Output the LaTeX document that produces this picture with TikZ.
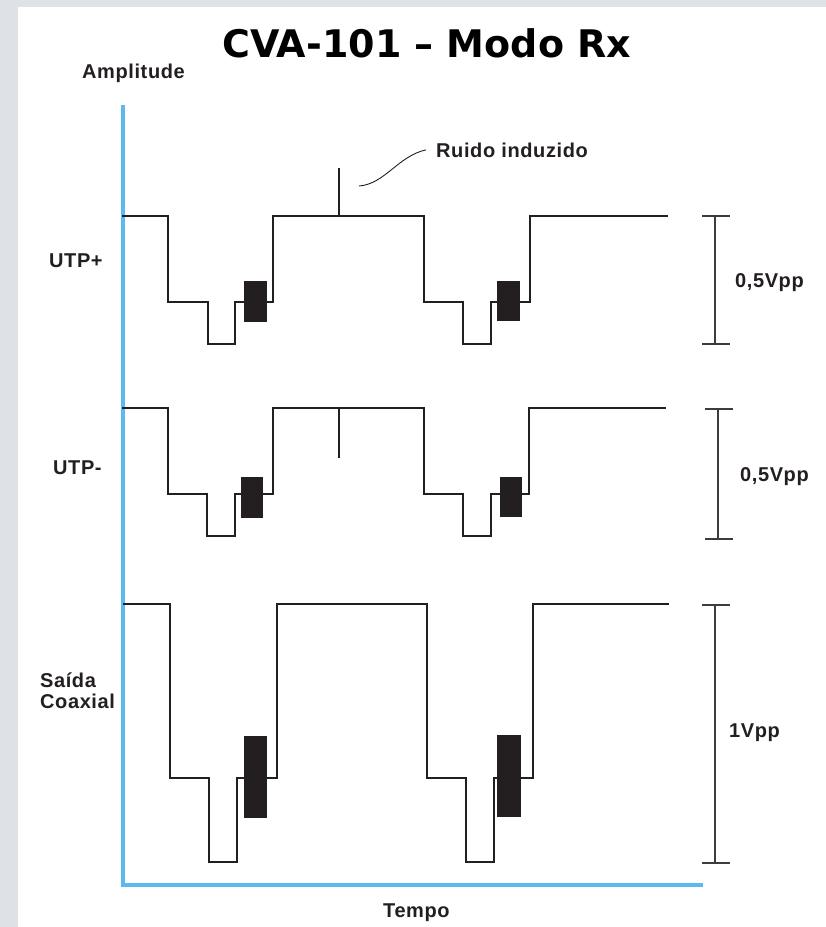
\documentclass[tikz,border=0pt]{standalone}
\usepackage{fontspec}
\setmainfont{Liberation Sans}
\newfontfamily\lblfont[LetterSpace=3]{Liberation Sans}
\newfontfamily\titlefont{DejaVu Sans}
\definecolor{ink}{RGB}{35,31,32}
\definecolor{axisblue}{RGB}{92,186,240}
\definecolor{bggray}{RGB}{222,226,230}
\definecolor{bargray}{RGB}{60,60,60}
\begin{document}
\begin{tikzpicture}[x=1pt,y=-1pt,
  wave/.style={line width=2.7pt, draw=ink, line join=miter},
  blk/.style={fill=ink},
  scalebar/.style={line width=1.2pt, draw=bargray},
  lbl/.style={font=\lblfont\fontsize{20}{24}\selectfont\bfseries, anchor=base west, inner sep=0pt, text=ink},
  axisline/.style={line width=3.6pt, draw=axisblue}]
\useasboundingbox (0,0) rectangle (826,927);
\fill[bggray] (0,0) rectangle (826,927);
\fill[white] (18,7) rectangle (826,927);

% title and labels
\node[anchor=base west, inner sep=0pt, font=\titlefont\fontsize{38}{44}\selectfont\bfseries] (title) at (222,57) {CVA-101 – Modo Rx};
\node[lbl] (amp) at (82,78) {Amplitude};
\node[lbl] (tempo) at (383,917) {Tempo};
\node[lbl] (utpp) at (49,267) {UTP+};
\node[lbl] (utpm) at (53,474) {UTP-};
\node[lbl, align=left, font=\lblfont\fontsize{20}{21}\selectfont\bfseries] (coax) at (40,708) {Saída\\Coaxial};
\node[lbl] (v1) at (735,287) {0,5Vpp};
\node[lbl] (v2) at (740,481) {0,5Vpp};
\node[lbl] (v3) at (729,737) {1Vpp};
\node[lbl] (ruido) at (436,157) {Ruido induzido};

% axes
\coordinate (ytop) at (123,105);
\coordinate (orig) at (123,885);
\coordinate (xend) at (703,885);
\draw[axisline] (ytop) -- (orig) -- (xend);

% UTP+
\draw[wave] (122,216) -- (168,216) -- (168,302) -- (208,302) -- (208,344) -- (235,344) -- (235,302) -- (273,302) -- (273,216) -- (424,216) -- (424,302) -- (463,302) -- (463,344) -- (491,344) -- (491,302) -- (530,302) -- (530,216) -- (668,216);
\fill[blk] (244,281) rectangle (267,322);
\fill[blk] (497,281) rectangle (520,321);
\coordinate (spk1a) at (339,168);
\coordinate (spk1b) at (339,216);
\draw[wave] (spk1a) -- (spk1b);
\coordinate (lead) at (359,186);
\draw[line width=0.9pt, draw=ink] (lead) .. controls (385,184) and (398,156) .. ([xshift=-10pt]ruido.west);

% UTP-
\draw[wave] (122,408) -- (168,408) -- (168,494) -- (207,494) -- (207,536) -- (235,536) -- (235,494) -- (273,494) -- (273,408) -- (424,408) -- (424,494) -- (463,494) -- (463,536) -- (491,536) -- (491,494) -- (529,494) -- (529,408) -- (666,408);
\fill[blk] (241,477) rectangle (263,518);
\fill[blk] (500,477) rectangle (522,517);
\coordinate (spk2a) at (339,408);
\coordinate (spk2b) at (339,458);
\draw[wave] (spk2a) -- (spk2b);

% Coax
\draw[wave] (123,604) -- (170,604) -- (170,778) -- (209,778) -- (209,862) -- (237,862) -- (237,778) -- (277,778) -- (277,604) -- (427,604) -- (427,778) -- (466,778) -- (466,862) -- (494,862) -- (494,778) -- (533,778) -- (533,604) -- (669,604);
\fill[blk] (244,736) rectangle (267,818);
\fill[blk] (497,735) rectangle (521,817);

% scale bars
\draw[scalebar] (702,216) -- (730,216) (715,216) -- (715,344) (702,344) -- (730,344);
\draw[scalebar] (705,409) -- (733,409) (718,409) -- (718,539) (705,539) -- (733,539);
\draw[scalebar] (702,605) -- (730,605) (715,605) -- (715,863) (702,863) -- (730,863);
\end{tikzpicture}
\end{document}
